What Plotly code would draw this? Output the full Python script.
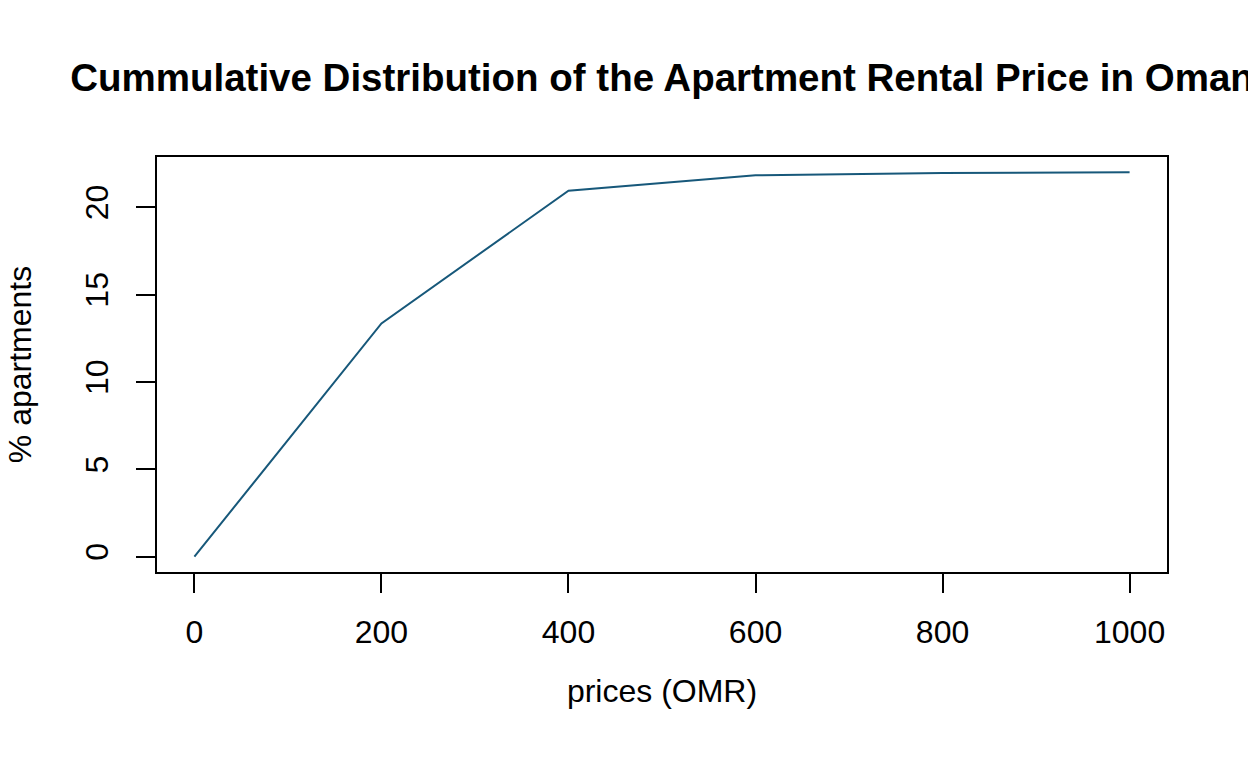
import plotly.graph_objects as go

# cumulative share of apartments by rental price
prices = [0, 200, 400, 600, 800, 1000]
pct_apartments = [0, 13.35, 20.95, 21.83, 21.97, 22.0]

line_color = '#17587A'
font_family = 'Liberation Sans, Arial, Helvetica, sans-serif'

fig = go.Figure()
fig.add_trace(go.Scatter(
    x=prices,
    y=pct_apartments,
    mode='lines',
    line=dict(color=line_color, width=2),
    showlegend=False,
))

# R-style axis padding of 4% on each side
x_lo, x_hi = min(prices), max(prices)
y_lo, y_hi = min(pct_apartments), max(pct_apartments)
x_pad = (x_hi - x_lo) * 0.04
y_pad = (y_hi - y_lo) * 0.04

fig.update_layout(
    width=1248,
    height=768,
    paper_bgcolor='white',
    plot_bgcolor='white',
    margin=dict(l=157, r=81, t=157, b=196, autoexpand=False),
    font=dict(family=font_family, size=32, color='black'),
    title=dict(
        text='<b>Cummulative Distribution of the Apartment Rental Price in Oman</b>',
        x=0.5,
        xref='paper',
        xanchor='center',
        y=1 - 78 / 768,
        yref='container',
        yanchor='middle',
        font=dict(family=font_family, size=38.5, color='black'),
    ),
    xaxis=dict(
        range=[x_lo - x_pad, x_hi + x_pad],
        tickvals=[0, 200, 400, 600, 800, 1000],
        ticks='outside',
        ticklen=19,
        tickwidth=2,
        tickcolor='black',
        ticklabelstandoff=12,
        showline=True,
        linewidth=2,
        linecolor='black',
        mirror=True,
        showgrid=False,
        zeroline=False,
        automargin=False,
        title=dict(text='prices (OMR)', standoff=30,
                   font=dict(family=font_family, size=32)),
    ),
    yaxis=dict(
        range=[y_lo - y_pad, y_hi + y_pad],
        tickvals=[0, 5, 10, 15, 20],
        tickangle=-90,
        ticks='outside',
        ticklen=19,
        tickwidth=2,
        tickcolor='black',
        ticklabelstandoff=15,
        showline=True,
        linewidth=2,
        linecolor='black',
        mirror=True,
        showgrid=False,
        zeroline=False,
        automargin=False,
        title=dict(text='% apartments', standoff=38,
                   font=dict(family=font_family, size=32)),
    ),
)

# drop the default page margin so the figure sits at the window origin
fig.write_html('out.html',
               config={'displayModeBar': False},
               post_script="document.body.style.margin='0';")
